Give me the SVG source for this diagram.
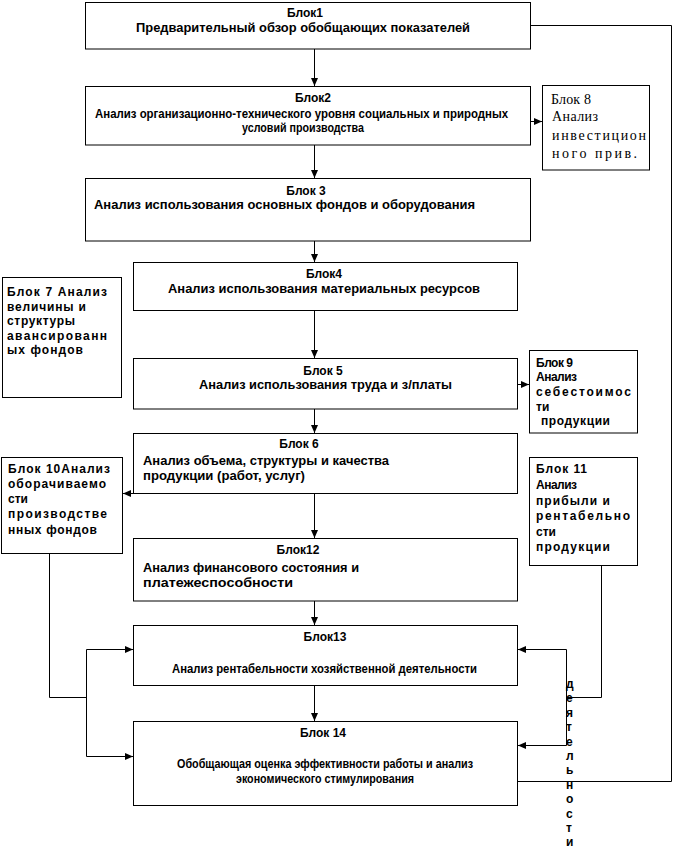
<svg xmlns="http://www.w3.org/2000/svg" width="674" height="850" viewBox="0 0 674 850">
<style>
.box{fill:#fff;stroke:#000;stroke-width:1}
.ln{fill:none;stroke:#000;stroke-width:1}
.t{font-family:"Liberation Sans",Arial,sans-serif;font-weight:bold;font-size:12px;fill:#000}
.c{text-anchor:middle}
.s{font-family:"Liberation Serif","Times New Roman",serif;font-size:14px;fill:#000}
</style>
<defs>
<marker id="ah" markerWidth="8" markerHeight="7" refX="8" refY="3.5" orient="auto" markerUnits="userSpaceOnUse">
<path d="M0,0 L8,3.5 L0,7 z" fill="#000"/>
</marker>
</defs>
<rect width="674" height="850" fill="#fff"/>
<g id="connectors">
<path class="ln" d="M314.5 49 V86" marker-end="url(#ah)"/>
<path class="ln" d="M314.5 145 V178" marker-end="url(#ah)"/>
<path class="ln" d="M314.5 241 V262" marker-end="url(#ah)"/>
<path class="ln" d="M314.5 310.5 V358" marker-end="url(#ah)"/>
<path class="ln" d="M314.5 409 V433" marker-end="url(#ah)"/>
<path class="ln" d="M314.5 493.5 V538" marker-end="url(#ah)"/>
<path class="ln" d="M314.5 601 V625" marker-end="url(#ah)"/>
<path class="ln" d="M314.5 685.5 V721" marker-end="url(#ah)"/>
<path class="ln" d="M530.5 121.5 H542" marker-end="url(#ah)"/>
<path class="ln" d="M517.5 384.5 H529" marker-end="url(#ah)"/>
<path class="ln" d="M133.5 493.5 H123" marker-end="url(#ah)"/>
<path class="ln" d="M49.5 553.5 V697.5 H86.5"/>
<path class="ln" d="M86.5 649.5 H133" marker-end="url(#ah)"/>
<path class="ln" d="M86.5 649.5 V756.5 H133" marker-end="url(#ah)"/>
<path class="ln" d="M601.5 565.5 V697.5 H566.5"/>
<path class="ln" d="M566.5 649.5 H518" marker-end="url(#ah)"/>
<path class="ln" d="M566.5 649.5 V745.5 H518" marker-end="url(#ah)"/>
<path class="ln" d="M530.5 25.5 H671.5 V781.5 H517.5"/>
</g>
<g id="block1">
<rect class="box" x="85.5" y="2.5" width="445" height="46.5"/>
<text class="t c" x="305" y="17">Блок1</text>
<text class="t" x="136" y="32" textLength="334" lengthAdjust="spacingAndGlyphs">Предварительный обзор обобщающих показателей</text>
</g>
<g id="block2">
<rect class="box" x="85.5" y="86.5" width="445" height="58.5"/>
<text class="t c" x="313" y="102">Блок2</text>
<text class="t" x="95" y="118" textLength="413" lengthAdjust="spacingAndGlyphs">Анализ организационно-технического уровня социальных и  природных</text>
<text class="t" x="242" y="132" textLength="122" lengthAdjust="spacingAndGlyphs">условий производства</text>
</g>
<g id="block3">
<rect class="box" x="85.5" y="178.5" width="445" height="62.5"/>
<text class="t c" x="306" y="195">Блок 3</text>
<text class="t" x="94" y="209" textLength="381" lengthAdjust="spacingAndGlyphs">Анализ использования основных фондов и оборудования</text>
</g>
<g id="block4">
<rect class="box" x="133.5" y="262.5" width="384" height="48"/>
<text class="t c" x="324" y="278">Блок4</text>
<text class="t" x="168" y="293" textLength="312" lengthAdjust="spacingAndGlyphs">Анализ использования материальных ресурсов</text>
</g>
<g id="block5">
<rect class="box" x="133.5" y="358.5" width="384" height="50.5"/>
<text class="t c" x="323" y="375">Блок 5</text>
<text class="t" x="199" y="389" textLength="253" lengthAdjust="spacingAndGlyphs">Анализ использования труда и з/платы</text>
</g>
<g id="block6">
<rect class="box" x="133.5" y="433.5" width="384" height="60"/>
<text class="t c" x="299" y="448">Блок 6</text>
<text class="t" x="143" y="465" textLength="246" lengthAdjust="spacingAndGlyphs">Анализ объема, структуры и качества</text>
<text class="t" x="143" y="480" textLength="162" lengthAdjust="spacingAndGlyphs">продукции (работ, услуг)</text>
</g>
<g id="block12">
<rect class="box" x="133.5" y="538.5" width="384" height="62.5"/>
<text class="t c" x="298" y="554">Блок12</text>
<text class="t" x="143" y="572" textLength="216" lengthAdjust="spacingAndGlyphs">Анализ финансового состояния и</text>
<text class="t" x="143" y="587" textLength="150" lengthAdjust="spacingAndGlyphs">платежеспособности</text>
</g>
<g id="block13">
<rect class="box" x="133.5" y="625.5" width="384" height="60"/>
<text class="t c" x="325" y="641">Блок13</text>
<text class="t" x="172" y="673" textLength="305" lengthAdjust="spacingAndGlyphs">Анализ рентабельности хозяйственной деятельности</text>
</g>
<g id="block14">
<rect class="box" x="133.5" y="721.5" width="384" height="84"/>
<text class="t c" x="323" y="737">Блок 14</text>
<text class="t" x="177" y="768" textLength="296" lengthAdjust="spacingAndGlyphs">Обобщающая оценка эффективности работы и  анализ</text>
<text class="t" x="236" y="783" textLength="178" lengthAdjust="spacingAndGlyphs">экономического стимулирования</text>
</g>
<g id="block7">
<rect class="box" x="2.5" y="277.5" width="119" height="120"/>
<text class="t" x="7" y="296" textLength="100" lengthAdjust="spacing">Блок 7 Анализ</text>
<text class="t" x="7" y="310.5" textLength="79" lengthAdjust="spacing">величины и</text>
<text class="t" x="7" y="325" textLength="68" lengthAdjust="spacing">структуры</text>
<text class="t" x="7" y="339.5" textLength="100" lengthAdjust="spacing">авансированн</text>
<text class="t" x="7" y="354" textLength="76" lengthAdjust="spacing">ых фондов</text>
</g>
<g id="block8">
<rect class="box" x="542.5" y="85.5" width="107" height="84.5"/>
<text class="s" x="551" y="104" textLength="40" lengthAdjust="spacing">Блок 8</text>
<text class="s" x="552" y="121" textLength="46" lengthAdjust="spacing">Анализ</text>
<text class="s" x="552" y="140" textLength="94" lengthAdjust="spacing">инвестицион</text>
<text class="s" x="552" y="158" textLength="85" lengthAdjust="spacing">ного прив.</text>
</g>
<g id="block9">
<rect class="box" x="529.5" y="350.5" width="108" height="82.5"/>
<text class="t" x="536" y="367" textLength="37" lengthAdjust="spacing">Блок 9</text>
<text class="t" x="536" y="381" textLength="41" lengthAdjust="spacing">Анализ</text>
<text class="t" x="536" y="396" textLength="95" lengthAdjust="spacing">себестоимос</text>
<text class="t" x="536" y="411">ти</text>
<text class="t" x="541" y="425" textLength="69" lengthAdjust="spacing">продукции</text>
</g>
<g id="block10">
<rect class="box" x="1.5" y="457.5" width="121" height="96"/>
<text class="t" x="8" y="473" textLength="102" lengthAdjust="spacing">Блок 10Анализ</text>
<text class="t" x="8" y="488" textLength="98" lengthAdjust="spacing">оборачиваемо</text>
<text class="t" x="8" y="503">сти</text>
<text class="t" x="8" y="518" textLength="99" lengthAdjust="spacing">производстве</text>
<text class="t" x="8" y="534" textLength="89" lengthAdjust="spacing">нных фондов</text>
</g>
<g id="block11">
<rect class="box" x="529.5" y="457.5" width="108" height="108"/>
<text class="t" x="536" y="473" textLength="51" lengthAdjust="spacing">Блок 11</text>
<text class="t" x="536" y="489" textLength="41" lengthAdjust="spacing">Анализ</text>
<text class="t" x="536" y="505" textLength="74" lengthAdjust="spacing">прибыли и</text>
<text class="t" x="536" y="520" textLength="94" lengthAdjust="spacing">рентабельно</text>
<text class="t" x="536" y="536">сти</text>
<text class="t" x="536" y="551" textLength="74" lengthAdjust="spacing">продукции</text>
</g>
<g id="vertical-label">
<text class="t" x="566" y="688"><tspan x="566" y="688">д</tspan><tspan x="566" y="702.4">е</tspan><tspan x="566" y="716.8">я</tspan><tspan x="566" y="731.2">т</tspan><tspan x="566" y="745.6">е</tspan><tspan x="566" y="760">л</tspan><tspan x="566" y="774.4">ь</tspan><tspan x="566" y="788.8">н</tspan><tspan x="566" y="803.2">о</tspan><tspan x="566" y="817.6">с</tspan><tspan x="566" y="832">т</tspan><tspan x="566" y="846.4">и</tspan></text>
</g>
</svg>
